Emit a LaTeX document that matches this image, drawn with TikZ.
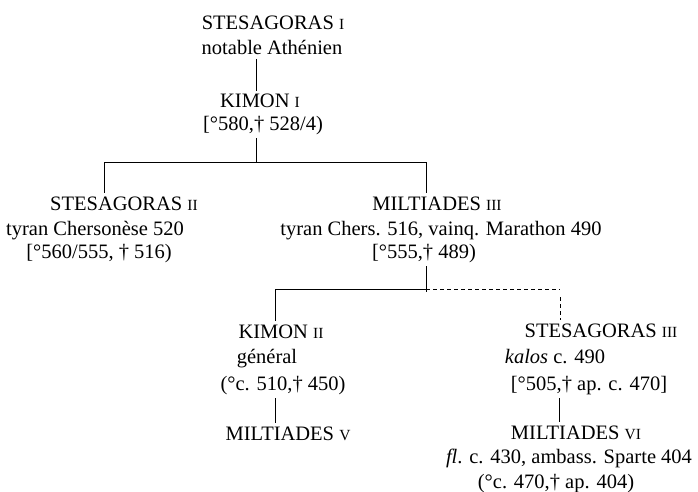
\documentclass[tikz,border=0pt]{standalone}
\usepackage{fontspec}
\setmainfont{Liberation Serif}
\usepackage{tikz}
\usetikzlibrary{positioning, calc}

% chiffres romains en petites capitales
\newcommand{\rom}[1]{{\fontsize{15.5}{15.5}\selectfont #1}}

\begin{document}
\begin{tikzpicture}[
  x=1pt, y=-1pt,
  person/.style={anchor=base, inner sep=3.5pt, font=\fontsize{20.5}{25}\selectfont},
  conn/.style={line width=0.7pt, black},
  dotted link/.style={conn, dash pattern=on 4pt off 3pt},
]
\useasboundingbox (0,0) rectangle (698,492);

% STESAGORAS I
\node[person] (s1) at (273,30) {STESAGORAS \rom{I}};
\node[person] (s1b) at (272,55) {notable Athénien};

% KIMON I
\node[person] (k1) at (260,108) {KIMON \rom{I}};
\node[person] (k1b) at (263,130) {[°580,† 528/4)};

% STESAGORAS II
\node[person] (s2) at (124,210) {STESAGORAS \rom{II}};
\node[person] (s2b) at (95,235) {tyran Chersonèse 520};
\node[person] (s2c) at (99,258) {[°560/555, † 516)};

% MILTIADES III
\node[person] (m3) at (437,210) {MILTIADES \rom{III}};
\node[person] (m3b) at (441,235) {tyran Chers. 516, vainq. Marathon 490};
\node[person] (m3c) at (424,258) {[°555,† 489)};

% KIMON II
\node[person] (k2) at (281,338) {KIMON \rom{II}};
\node[person] (k2b) at (267,363) {général};
\node[person] (k2c) at (283,390) {(°c. 510,† 450)};
\node[person] (m5) at (288,440) {MILTIADES \rom{V}};

% STESAGORAS III
\node[person] (s3) at (601,337) {STESAGORAS \rom{III}};
\node[person] (s3b) at (555,363) {\textit{kalos} c. 490};
\node[person] (s3c) at (589,390) {[°505,† ap. c. 470]};
\node[person] (m6) at (576,439) {MILTIADES \rom{VI}};
\node[person] (m6b) at (569,463) {\textit{fl}. c. 430, ambass. Sparte 404};
\node[person] (m6c) at (556,488) {(°c. 470,† ap. 404)};

% jonctions
\coordinate (b1) at (256,162);
\coordinate (b1l) at (104,162);
\coordinate (b1r) at (426,162);
\coordinate (b2) at (426,289);
\coordinate (b2l) at (275,289);
\coordinate (b2r) at (560,289);
\coordinate (b3) at (559,0);

% traits
\draw[conn] (s1b.south -| b1) -- (k1.north -| b1);
\draw[conn] (k1b.south -| b1) -- (b1);
\draw[conn] (b1l) -- (b1r);
\draw[conn] (b1l) -- (s2.north -| b1l);
\draw[conn] (b1r) -- (m3.north -| b1r);

\draw[conn] (m3c.south -| b2) -- ([yshift=-3pt]b2);
\draw[conn] (b2l) -- (b2);
\draw[dotted link] (b2) -- (b2r);
\draw[conn] (b2l) -- (k2.north -| b2l);
\draw[dotted link] ([yshift=-8pt]b2r) -- (s3.north -| b2r);

\draw[conn] (k2c.south -| b2l) -- (m5.north -| b2l);
\draw[conn] (s3c.south -| b3) -- (m6.north -| b3);

\end{tikzpicture}
\end{document}
